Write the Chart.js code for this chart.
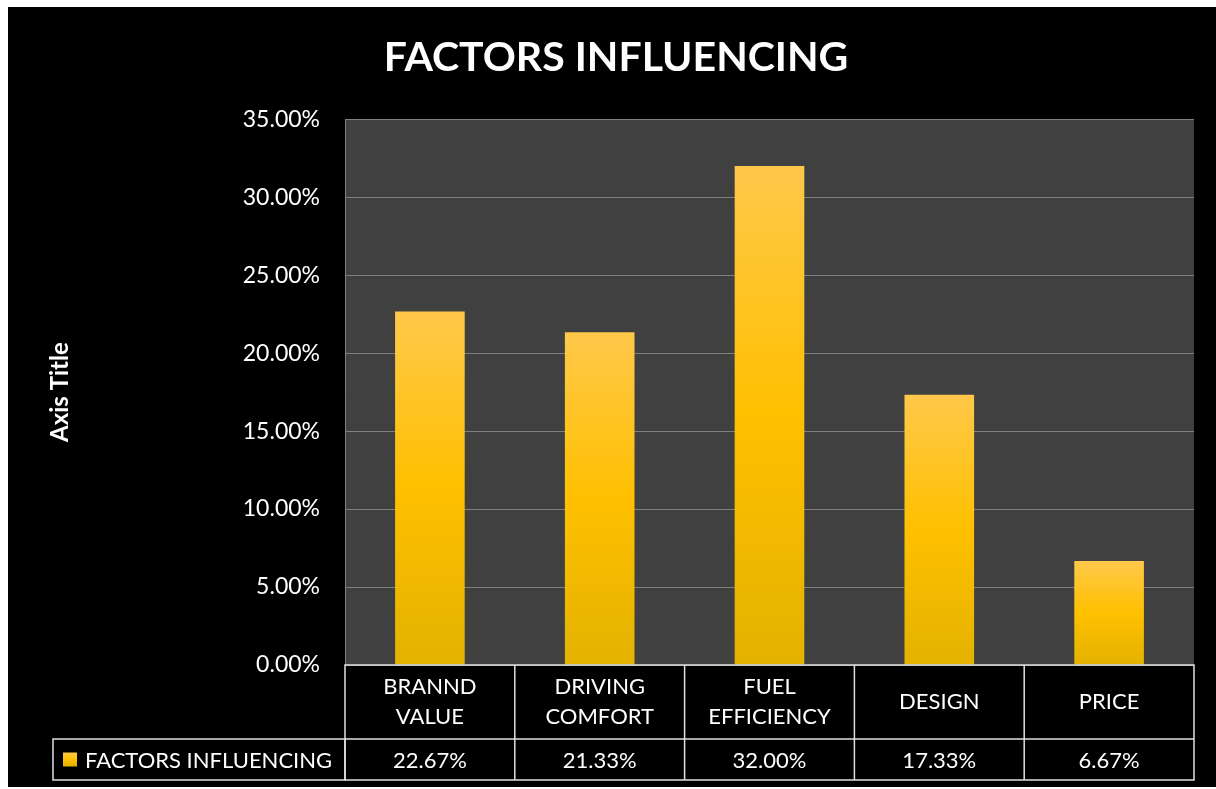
<!DOCTYPE html>
<html>
<head>
<meta charset="utf-8">
<title>FACTORS INFLUENCING</title>
<script src="https://cdn.jsdelivr.net/npm/chart.js@4.4.0/dist/chart.umd.min.js"></script>
<style>
    html, body { margin: 0; padding: 0; background: #fff; }
    #wrap { position: absolute; left: 8px; top: 7px; width: 1208px; height: 780px; background: #000; }
</style>
</head>
<body>
<div id="wrap"><canvas id="factorsChart"></canvas></div>
<script>
var chartTitle = "FACTORS INFLUENCING";
var seriesName = "FACTORS INFLUENCING";
var categories = [["BRANND", "VALUE"], ["DRIVING", "COMFORT"], ["FUEL", "EFFICIENCY"], ["DESIGN"], ["PRICE"]];
var values = [22.67, 21.33, 32.00, 17.33, 6.67];
var yTicks = [0, 5, 10, 15, 20, 25, 30, 35];

var fontFamily = "Lato, 'Open Sans', sans-serif";

function pct(v) {
    return v.toFixed(2) + '%';
}

function yellowGradient(ctx, top, bottom) {
    var g = ctx.createLinearGradient(0, top, 0, bottom);
    g.addColorStop(0, '#FFC84A');
    g.addColorStop(0.5, '#FFC000');
    g.addColorStop(1, '#E3B200');
    return g;
}

function barFill(context) {
    var chart = context.chart;
    if (!chart.chartArea || context.type !== 'data') return '#FFC000';
    var y = chart.scales.y;
    var top = y.getPixelForValue(values[context.dataIndex]);
    var bottom = y.getPixelForValue(0);
    return yellowGradient(chart.ctx, top, bottom);
}

// grey plot area behind the bars
var plotBackground = {
    id: 'plotBackground',
    beforeDraw: function(chart) {
        var a = chart.chartArea;
        var ctx = chart.ctx;
        ctx.save();
        ctx.fillStyle = '#404040';
        ctx.fillRect(a.left, a.top, a.right - a.left, a.bottom - a.top);
        ctx.restore();
    }
};

// excel style data table under the plot
var dataTable = {
    id: 'dataTable',
    afterDraw: function(chart) {
        var a = chart.chartArea;
        var ctx = chart.ctx;
        var x = chart.scales.x;
        var colW = (a.right - a.left) / values.length;
        var rowTop = a.bottom;
        var rowMid = a.bottom + 74;
        var rowBottom = a.bottom + 115;
        var legendLeft = 45;

        ctx.save();
        ctx.strokeStyle = '#e0e0e0';
        ctx.lineWidth = 1.5;
        ctx.strokeRect(a.left, rowTop, a.right - a.left, rowBottom - rowTop);
        ctx.strokeRect(legendLeft, rowMid, a.left - legendLeft, rowBottom - rowMid);
        ctx.beginPath();
        ctx.moveTo(a.left, rowMid);
        ctx.lineTo(a.right, rowMid);
        for (var i = 1; i < values.length; i++) {
            var edge = x.getPixelForValue(i) - colW / 2;
            ctx.moveTo(edge, rowTop);
            ctx.lineTo(edge, rowBottom);
        }
        ctx.stroke();

        ctx.fillStyle = '#ffffff';
        ctx.textAlign = 'center';
        ctx.textBaseline = 'middle';
        ctx.font = '22px ' + fontFamily;
        for (var j = 0; j < values.length; j++) {
            var cx = x.getPixelForValue(j);
            var lines = categories[j];
            var cy = (rowTop + rowMid) / 2 - (lines.length - 1) * 15;
            for (var k = 0; k < lines.length; k++) {
                ctx.fillText(lines[k], cx, cy + k * 30);
            }
            ctx.fillText(pct(values[j]), cx, (rowMid + rowBottom) / 2 + 1);
        }

        // legend key
        var keyTop = (rowMid + rowBottom) / 2 - 7;
        ctx.fillStyle = yellowGradient(ctx, keyTop, keyTop + 14);
        ctx.fillRect(legendLeft + 10, keyTop, 14, 14);
        ctx.fillStyle = '#ffffff';
        ctx.textAlign = 'left';
        ctx.fillText(seriesName, legendLeft + 32, (rowMid + rowBottom) / 2 + 1);
        ctx.restore();
    }
};

var ctx = document.getElementById('factorsChart').getContext('2d');
var chart = new Chart(ctx, {
    type: 'bar',
    data: {
        labels: categories,
        datasets: [{
            label: seriesName,
            data: values,
            backgroundColor: barFill,
            borderWidth: 0,
            categoryPercentage: 1,
            barPercentage: 0.41
        }]
    },
    options: {
        responsive: true,
        maintainAspectRatio: false,
        devicePixelRatio: 1,
        animation: false,
        layout: {
            padding: { left: 30, right: 22, top: 0, bottom: 122 }
        },
        plugins: {
            legend: { display: false },
            tooltip: { enabled: false },
            title: {
                display: true,
                text: chartTitle,
                color: '#ffffff',
                font: { family: fontFamily, size: 41, weight: 'bold' },
                padding: { top: 26, bottom: 37 }
            }
        },
        scales: {
            x: {
                display: false
            },
            y: {
                min: 0,
                max: 35,
                afterFit: function(scale) {
                    scale.width = 307;
                },
                afterBuildTicks: function(scale) {
                    scale.ticks = yTicks.map(function(v) { return { value: v }; });
                },
                ticks: {
                    color: '#ffffff',
                    padding: 25,
                    font: { family: fontFamily, size: 23 },
                    callback: function(v) { return pct(v); }
                },
                grid: {
                    color: '#7f7f7f',
                    lineWidth: 1,
                    drawTicks: false
                },
                border: {
                    display: true,
                    color: '#7f7f7f',
                    width: 1
                },
                title: {
                    display: true,
                    text: 'Axis Title',
                    color: '#ffffff',
                    font: { family: fontFamily, size: 24, weight: 'bold' },
                    padding: { top: 8, bottom: 0 }
                }
            }
        }
    },
    plugins: [plotBackground, dataTable]
});
</script>
</body>
</html>
